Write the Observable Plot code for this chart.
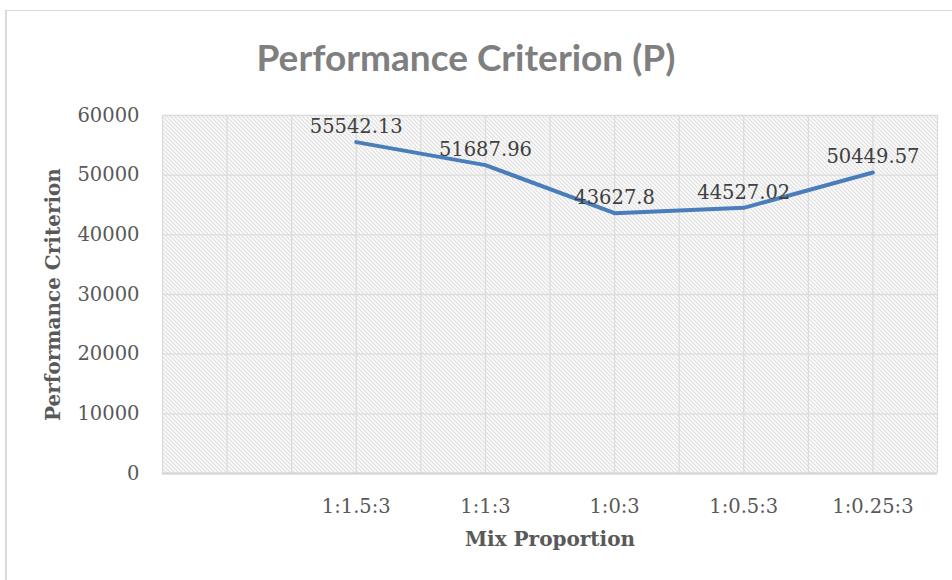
<!DOCTYPE html>
<html>
<head>
<meta charset="utf-8">
<script src="https://cdn.jsdelivr.net/npm/d3@7"></script>
<script src="https://cdn.jsdelivr.net/npm/@observablehq/plot@0.6"></script>
<style>
  body { margin: 0; background: #fff; }
  #wrap { position: relative; width: 952px; height: 580px; overflow: hidden; background: #fff; }
  #border { position: absolute; left: 5px; top: 10px; width: 2000px; height: 2000px;
            border-left: 2px solid #d9d9d9; border-top: 1px solid #d9d9d9; pointer-events: none; }
  #titlebox { position: relative; width: 952px; height: 90px; }
  #title { position: absolute; left: 466px; top: 38px; transform: translateX(-50%); white-space: nowrap;
           font-family: Lato, "Open Sans", sans-serif; font-weight: bold; font-size: 37px; line-height: 37px; color: #7f7f7f; }
  #chart svg { display: block; }
</style>
</head>
<body>
<div id="wrap">
  <div id="border"></div>
  <div id="titlebox"><div id="title">Performance Criterion (P)</div></div>
  <div id="chart"></div>
</div>
<script>
// ---- data ----
const categories = ["", "1:1.5:3", "1:1:3", "1:0:3", "1:0.5:3", "1:0.25:3"];
const seriesCategories = ["1:1.5:3", "1:1:3", "1:0:3", "1:0.5:3", "1:0.25:3"];
const seriesValues = [55542.13, 51687.96, 43627.8, 44527.02, 50449.57];
const yTicks = [0, 10000, 20000, 30000, 40000, 50000, 60000];
const title = "Performance Criterion (P)";
const xLabel = "Mix Proportion";
const yLabel = "Performance Criterion";

// position index of each category (center of its slot)
const catIndex = new Map(categories.map((c, i) => [c, i + 0.5]));
const data = seriesCategories.map((c, i) => ({cat: c, x: catIndex.get(c), value: seriesValues[i]}));
const xTicks = categories.map((c, i) => i + 0.5);
const xGrid = d3.range(0, categories.length + 0.001, 0.5);

const chart = Plot.plot({
  width: 952,
  height: 490,
  marginTop: 25,
  marginBottom: 107,
  marginLeft: 162,
  marginRight: 15,
  style: { fontFamily: "'DejaVu Serif', serif", fontSize: "19.5px", color: "#595959", background: "transparent" },
  x: { domain: [0, categories.length], axis: null },
  y: { domain: [0, 60000], axis: null },
  marks: [
    Plot.frame({ fill: "url(#hatch)", stroke: null }),
    Plot.ruleX(xGrid, { stroke: "#dcdcdc", strokeWidth: 1.3 }),
    Plot.ruleY(yTicks, { stroke: "#dcdcdc", strokeWidth: 1.3 }),
    Plot.ruleY([0], { stroke: "#d4d4d4", strokeWidth: 2 }),
    Plot.axisY(yTicks, { anchor: "left", tickSize: 0, tickPadding: 23, tickFormat: d => String(d), label: null, fill: "#595959" }),
    Plot.axisX(xTicks, { anchor: "bottom", tickSize: 0, tickPadding: 26, tickFormat: d => categories[Math.round(d - 0.5)], label: null, fill: "#595959" }),
    Plot.line(data, { x: "x", y: "value", stroke: "#4a7ebb", strokeWidth: 4, strokeLinecap: "round", strokeLinejoin: "round" }),
    Plot.text(data, { x: "x", y: "value", text: d => String(d.value), lineAnchor: "bottom", dy: -9, fill: "#404040" }),
    Plot.text([yLabel], { frameAnchor: "left", textAnchor: "middle", lineAnchor: "middle", dx: -109, rotate: -90, fontWeight: "bold", fontSize: 20, fill: "#595959" }),
    Plot.text([xLabel], { frameAnchor: "bottom", textAnchor: "middle", lineAnchor: "middle", dy: 66, fontWeight: "bold", fontSize: 20, fill: "#595959" })
  ]
});

// hatch pattern definition for the plot-area background
const defs = d3.select(chart).insert("defs", ":first-child");
const pat = defs.append("pattern").attr("id", "hatch").attr("patternUnits", "userSpaceOnUse")
  .attr("width", 4).attr("height", 4);
pat.append("rect").attr("width", 4).attr("height", 4).attr("fill", "#ffffff");
pat.append("path").attr("d", "M-1,-1 L5,5 M3,-1 L5,1 M-1,3 L1,5")
  .attr("stroke", "#c4c4c4").attr("stroke-width", 1);

document.getElementById("chart").appendChild(chart);
</script>
</body>
</html>
